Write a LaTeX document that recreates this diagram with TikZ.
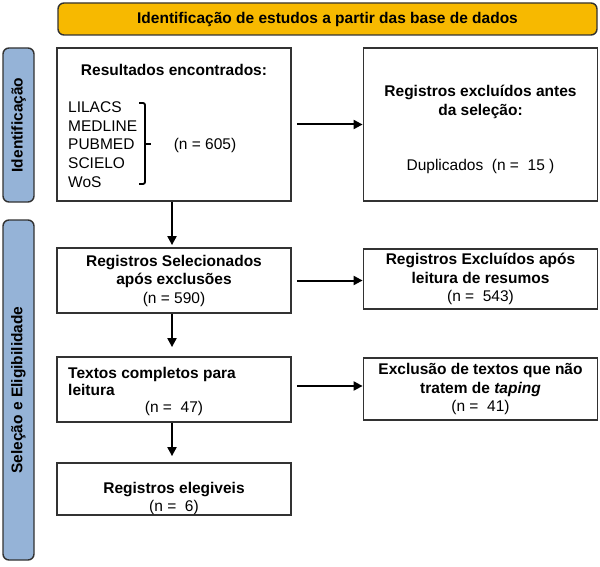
\documentclass[tikz,border=0pt]{standalone}
\usepackage{fontspec}
\setmainfont{Liberation Sans}
\usetikzlibrary{arrows.meta}
\definecolor{bannerorange}{RGB}{247,185,0}
\definecolor{sideblue}{RGB}{149,179,215}
\definecolor{framegray}{RGB}{50,50,50}

\begin{document}
\begin{tikzpicture}[x=1pt,y=-1pt,font=\fontsize{15.5}{18.5}\selectfont]
  \useasboundingbox (0,0) rectangle (600,567);

        \begin{scope}[every node/.style={draw=framegray,line width=1.4pt,rounded corners=6pt,inner sep=0pt,font=\fontsize{15.5}{18.5}\selectfont\bfseries}]
          \node[fill=bannerorange,minimum width=539pt,minimum height=32pt] (head) at (327.5,19) {Identificação de estudos a partir das base de dados};
          \node[fill=sideblue,rotate=90,minimum width=154pt,minimum height=31pt] (side1) at (18.5,125) {Identificação};
          \node[fill=sideblue,rotate=90,minimum width=340pt,minimum height=31pt] (side2) at (18.5,390) {Seleção e Eligibilidade};
        \end{scope}

        \begin{scope}[every node/.style={draw=framegray,line width=1.8pt,inner sep=0pt,align=center,minimum width=234pt}]
          \node[minimum height=153pt] (found) at (174,124.5) {};
          \node[minimum height=153pt] (dup)   at (480.5,124.5) {};
          \node[minimum height=65pt]  (sel)   at (174,280.5) {\textbf{Registros Selecionados}\\\textbf{após exclusões}\\(n = 590)};
          \node[minimum height=60pt]  (abs)   at (480.5,279) {\textbf{Registros Excluídos após}\\\textbf{leitura de resumos}\\(n =\ \ 543)};
          \node[minimum height=65pt]  (full)  at (174,389.5) {};
          \node[minimum height=62pt]  (tap)   at (480.5,389) {\textbf{Exclusão de textos que não}\\\textbf{tratem de \textit{taping}}\\(n =\ \ 41)};
          \node[minimum height=52pt]  (elig)  at (174,489) {};
        \end{scope}

        \begin{scope}[every node/.style={inner sep=0pt,align=center}]
          \node[font=\fontsize{15.5}{18.5}\selectfont\bfseries] (foundT) at (174,70) {Resultados encontrados:};
          \node[anchor=west,align=left,font=\fontsize{15.5}{18.7}\selectfont] (bases) at (68,144.5) {LILACS\\MEDLINE\\PUBMED\\SCIELO\\WoS};
          \node (foundN) at (205,145) {(n = 605)};
          \node (dupT) at (480.5,129.5) {\textbf{Registros excluídos antes}\\\textbf{da seleção:}\\[37pt]Duplicados\ \ (n =\ \ 15 )};
          \node[anchor=west,align=left,font=\fontsize{15.5}{17}\selectfont\bfseries] (fullT) at (68,381.5) {Textos completos para\\leitura};
          \node (fullN) at (174,408) {(n =\ \ 47)};
          \node (eligT) at (174,498.5) {\textbf{Registros elegiveis}\\(n =\ \ 6)};
        \end{scope}

        \draw[line width=1.8pt,rounded corners=2pt] (139,103) -- (145,103) -- (145,184) -- (139,184);
        \draw[line width=1.8pt] (145,144) -- (151,144);

        \begin{scope}[every edge/.style={draw,line width=2pt,-{Triangle[length=9pt,width=9pt]}}]
          \path (found) edge[shorten <=5pt] (dup);
          \path (sel.east) edge[shorten <=5pt] (sel.east -| abs.west);
          \path ([yshift=3.5pt]full.east) edge[shorten <=5pt] ([yshift=3.5pt]full.east -| tap.west);
          \path ([xshift=-2pt]found.south) edge[shorten >=2pt] ([xshift=-2pt]sel.north);
          \path ([xshift=-2pt]sel.south) edge[shorten >=9pt] ([xshift=-2pt]full.north);
          \path ([xshift=-2pt]full.south) edge[shorten >=6pt] ([xshift=-2pt]elig.north);
        \end{scope}

      \end{tikzpicture}
\end{document}
